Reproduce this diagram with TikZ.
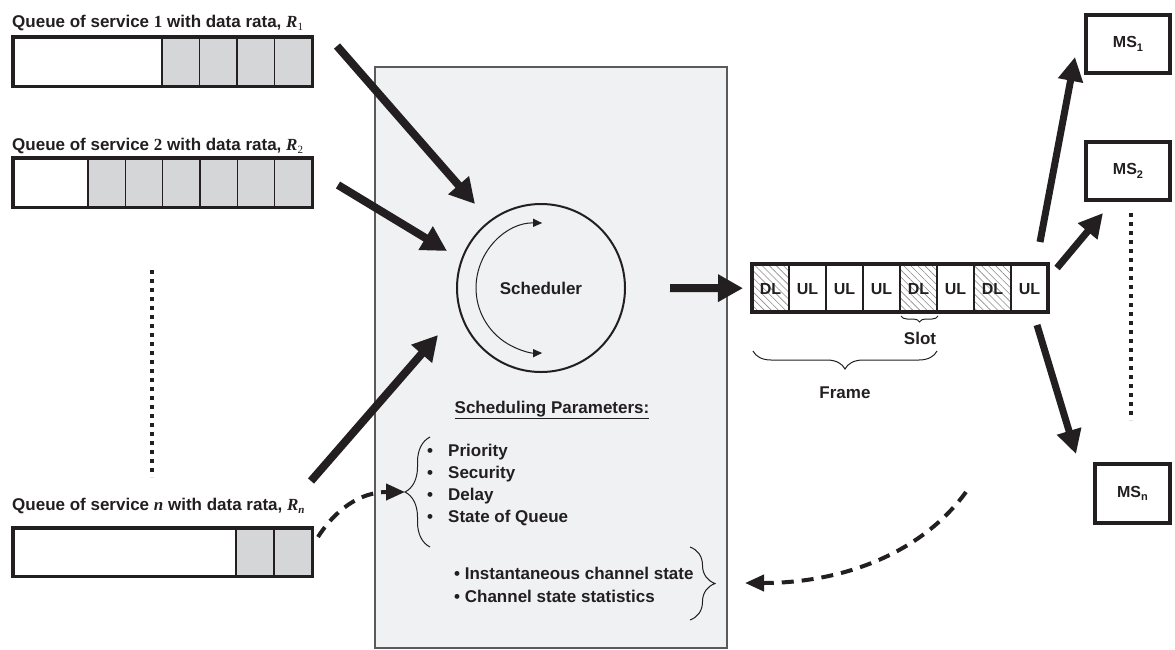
\documentclass[tikz,border=0pt]{standalone}
\usepackage{fontspec}
\setmainfont{Liberation Sans}
\newfontfamily\serifb{Liberation Serif}
\usetikzlibrary{arrows.meta,decorations.pathreplacing,patterns.meta}
\definecolor{ink}{HTML}{231F20}
\definecolor{boxgray}{HTML}{F0F1F2}
\definecolor{boxedge}{HTML}{5A5A5A}
\definecolor{cellgray}{HTML}{D5D6D8}
\definecolor{hatchc}{HTML}{8A8A8A}
\newcommand{\fsz}[1]{\fontsize{#1}{#1}\selectfont}
\newcommand{\subs}[1]{\raisebox{-3.5pt}{\fsz{11}#1}}
\begin{document}
\begin{tikzpicture}[x=1pt,y=-1pt,
  lbl/.style={font=\fsz{17}\bfseries, text=ink, inner sep=0pt},
  qlabel/.style={lbl, anchor=west},
  qwhite/.style={fill=white, anchor=north west, inner sep=0pt},
  qcell/.style={fill=cellgray, draw=ink, line width=1.2pt},
  qborder/.style={draw=ink, line width=3.5pt},
  bigarrow/.style={draw=ink, line width=8pt, -{Triangle[length=25pt,width=26pt]}},
  msarrow/.style={draw=ink, line width=7pt, -{Triangle[length=24pt,width=24pt]}},
  dasharrow/.style={draw=ink, line width=4pt, dash pattern=on 12pt off 8pt, -{Triangle[length=19pt,width=16pt]}},
  dotline/.style={draw=ink, line width=4pt, dash pattern=on 4pt off 5pt},
  msbox/.style={draw=ink, line width=4pt, fill=white, inner sep=0pt, font=\fsz{16}\bfseries, text=ink},
  slottext/.style={font=\fsz{16}\bfseries, text=ink, inner sep=0pt},
  bracestyle/.style={draw=ink, line width=1pt, decorate}
]
\useasboundingbox (0,0) rectangle (1175,649);

% scheduler area
\node[draw=boxedge, fill=boxgray, line width=1.5pt, anchor=north west,
      minimum width=352pt, minimum height=581pt, inner sep=0pt] (sbox) at (374,66) {};

% queue 1
\node[qlabel] (l1) at (12,23) {Queue of service {\serifb 1} with data rata, {\serifb\itshape R}\subs{\serifb\mdseries 1}};
\node[qwhite, minimum width=299pt, minimum height=49pt] (q1) at (13,37) {};
\foreach \i in {0,...,3} \draw[qcell] ({162+37.5*\i},37) rectangle ++(37.5,49);
\draw[qborder] (q1.north west) rectangle (q1.south east);

% queue 2
\node[qlabel] (l2) at (12,146) {Queue of service {\serifb 2} with data rata, {\serifb\itshape R}\subs{\serifb\mdseries 2}};
\node[qwhite, minimum width=299pt, minimum height=49pt] (q2) at (13,158) {};
\foreach \i in {0,...,5} \draw[qcell] ({88+37.333*\i},158) rectangle ++(37.333,49);
\draw[qborder] (q2.north west) rectangle (q2.south east);

% queue n
\node[qlabel] (ln) at (12,506) {Queue of service {\serifb\itshape n} with data rata, {\serifb\itshape R}\subs{\serifb\itshape n}};
\node[qwhite, minimum width=299pt, minimum height=48pt] (qn) at (13,528) {};
\foreach \i in {0,1} \draw[qcell] ({236+38*\i},528) rectangle ++(38,48);
\draw[qborder] (qn.north west) rectangle (qn.south east);

% dotted lines
\coordinate (d1a) at (152,270); \coordinate (d1b) at (152,477);
\draw[dotline] (d1a) -- (d1b);
\coordinate (d2a) at (1131,213); \coordinate (d2b) at (1131,420);
\draw[dotline] (d2a) -- (d2b);

% scheduler
\node[circle, draw=ink, line width=2pt, minimum size=168pt, inner sep=0pt, font=\fsz{17}\bfseries, text=ink] (sched) at (541,288) {Scheduler};
\draw[ink, line width=1pt, {Triangle[length=9pt,width=8pt]}-{Triangle[length=9pt,width=8pt]}]
  ([shift={(89:65pt)}]sched.center) arc[start angle=89, end angle=271, radius=65pt];

% input arrows
\coordinate (a1s) at (337,46); \coordinate (a1e) at (475,204);
\draw[bigarrow] (a1s) -- (a1e);
\coordinate (a2s) at (338,185); \coordinate (a2e) at (447,251);
\draw[bigarrow] (a2s) -- (a2e);
\coordinate (a3s) at (311,481); \coordinate (a3e) at (438,335);
\draw[bigarrow] (a3s) -- (a3e);

% frame
\node[fill=white, anchor=north west, minimum width=296pt, minimum height=48pt, inner sep=0pt] (frm) at (752,264) {};
\foreach \i in {0,4,6}
  \fill[pattern={Lines[angle=-45,distance=5pt,line width=0.6pt]}, pattern color=hatchc] ({752+37*\i},264) rectangle ++(37,48);
\foreach \i in {1,...,7} \draw[ink, line width=1.2pt] ({752+37*\i},264) -- ++(0,48);
\foreach \lab [count=\i from 0] in {DL,UL,UL,UL,DL,UL,DL,UL}
  \node[slottext] (s\i) at ({770.5+37*\i},289) {\lab};
\draw[ink, line width=4pt] (frm.north west) rectangle (frm.south east);

% output arrow
\coordinate (oa) at (670,288);
\draw[bigarrow] (oa) -- ([xshift=-9pt]frm.west);

% slot / frame braces
\draw[bracestyle, decoration={brace, amplitude=6pt}] (938,316) -- (901,316);
\node[lbl] (slot) at (920,338) {Slot};
\draw[bracestyle, decoration={brace, amplitude=18pt}] (937,351) -- (753,351);
\node[lbl] (frame) at (845,393) {Frame};

% MS boxes
\node[msbox, minimum width=84pt, minimum height=58pt] (ms1) at (1128,44) {MS\subs{1}};
\node[msbox, minimum width=84pt, minimum height=58pt] (ms2) at (1128,171) {MS\subs{2}};
\node[msbox, minimum width=75pt, minimum height=59pt] (msn) at (1132.5,493.5) {MS\subs{n}};

% arrows to MS
\coordinate (m1s) at (1040,242); \coordinate (m1e) at (1075,57);
\draw[msarrow] (m1s) -- (m1e);
\coordinate (m2s) at (1057,268); \coordinate (m2e) at (1103,213);
\draw[msarrow] (m2s) -- (m2e);
\coordinate (m3s) at (1037,325); \coordinate (m3e) at (1076,454);
\draw[msarrow] (m3s) -- (m3e);

% scheduling parameters
\node[lbl] (sp) at (552,410) {\underline{Scheduling Parameters:}};
\node[qlabel] (p1) at (427,452) {\makebox[21pt][l]{•}Priority};
\node[qlabel] (p2) at (427,474) {\makebox[21pt][l]{•}Security};
\node[qlabel] (p3) at (427,496) {\makebox[21pt][l]{•}Delay};
\node[qlabel] (p4) at (427,518) {\makebox[21pt][l]{•}State of Queue};
\node[qlabel] (c1) at (454,573) {• Instantaneous channel state};
\node[qlabel] (c2) at (454,596) {• Channel state statistics};

\draw[bracestyle, decoration={brace, amplitude=25pt}] (430,547) -- (430,437);
\coordinate (lbt) at (405,492);
\draw[bracestyle, decoration={brace, amplitude=25pt}] (690,547) -- (690,620);

% dashed feedback arrows
\coordinate (dqs) at (318,537);
\draw[dasharrow] (dqs) .. controls (335,510) and (360,492) .. (lbt);
\coordinate (dms) at (966,492); \coordinate (dme) at (745,583);
\draw[dasharrow] (dms) .. controls (920,555) and (840,583) .. (dme);
\end{tikzpicture}
\end{document}
